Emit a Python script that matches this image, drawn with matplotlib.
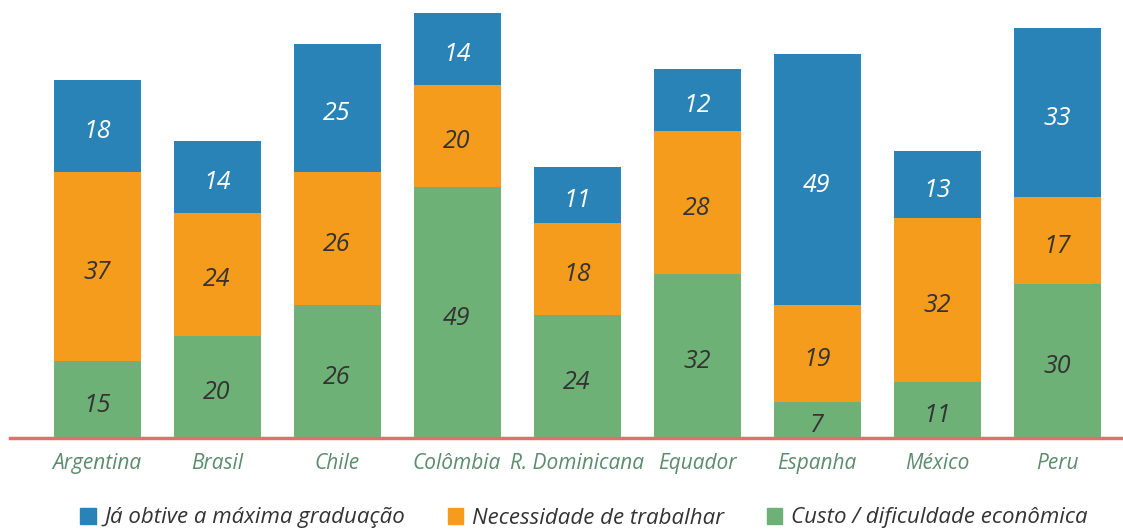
import matplotlib.pyplot as plt
from matplotlib.patches import Patch
import numpy as np

# --- dados ---
paises = ['Argentina', 'Brasil', 'Chile', 'Colômbia', 'R. Dominicana',
          'Equador', 'Espanha', 'México', 'Peru']
custo = [15, 20, 26, 49, 24, 32, 7, 11, 30]
trabalhar = [37, 24, 26, 20, 18, 28, 19, 32, 17]
graduacao = [18, 14, 25, 14, 11, 12, 49, 13, 33]

series_nomes = ['Já obtive a máxima graduação', 'Necessidade de trabalhar',
                'Custo / dificuldade econômica']

AZUL = '#2a83b7'
LARANJA = '#f59c1d'
VERDE = '#6db176'

plt.rcParams['font.family'] = ['Open Sans', 'DejaVu Sans']

W, H = 1123, 530
fig = plt.figure(figsize=(W / 100, H / 100), dpi=100)
ax = fig.add_axes([0, 92 / H, 1, 438 / H])

x = np.arange(len(paises))
largura = 0.725

b1 = ax.bar(x, custo, largura, color=VERDE)
b2 = ax.bar(x, trabalhar, largura, bottom=custo, color=LARANJA)
base3 = np.array(custo) + np.array(trabalhar)
b3 = ax.bar(x, graduacao, largura, bottom=base3, color=AZUL)

# rótulos dentro dos segmentos
for barras, vals, cor in [(b1, custo, '#333333'), (b2, trabalhar, '#333333'),
                          (b3, graduacao, 'white')]:
    for r, v in zip(barras, vals):
        ax.annotate(str(v), (r.get_x() + r.get_width() / 2,
                             r.get_y() + r.get_height() / 2),
                    xytext=(0, -2), textcoords='offset points',
                    ha='center', va='center_baseline', fontsize=18,
                    style='italic', color=cor)

ax.set_xlim(-97 / 120, (W - 97) / 120)
ax.set_ylim(0, 438 / 5.12)
ax.axhline(0, xmin=10 / W, xmax=1, color='#e0706a', lw=2.5, zorder=5,
           clip_on=False)

for s in ax.spines.values():
    s.set_visible(False)
ax.set_yticks([])
ax.set_xticks(x)
ax.set_xticklabels(paises, fontsize=15, style='italic', color='#5b8c6d')
ax.tick_params(axis='x', length=0, pad=11)

handles = [Patch(color=AZUL), Patch(color=LARANJA), Patch(color=VERDE)]
fig.legend(handles, series_nomes, loc='center', bbox_to_anchor=(584 / W, 12 / H),
           ncol=3, frameon=False, prop={'size': 16, 'style': 'italic'},
           handlelength=0.7, handleheight=0.7, handletextpad=0.4,
           columnspacing=1.9, labelcolor='#333333')

fig.savefig('out.png', dpi=100)
